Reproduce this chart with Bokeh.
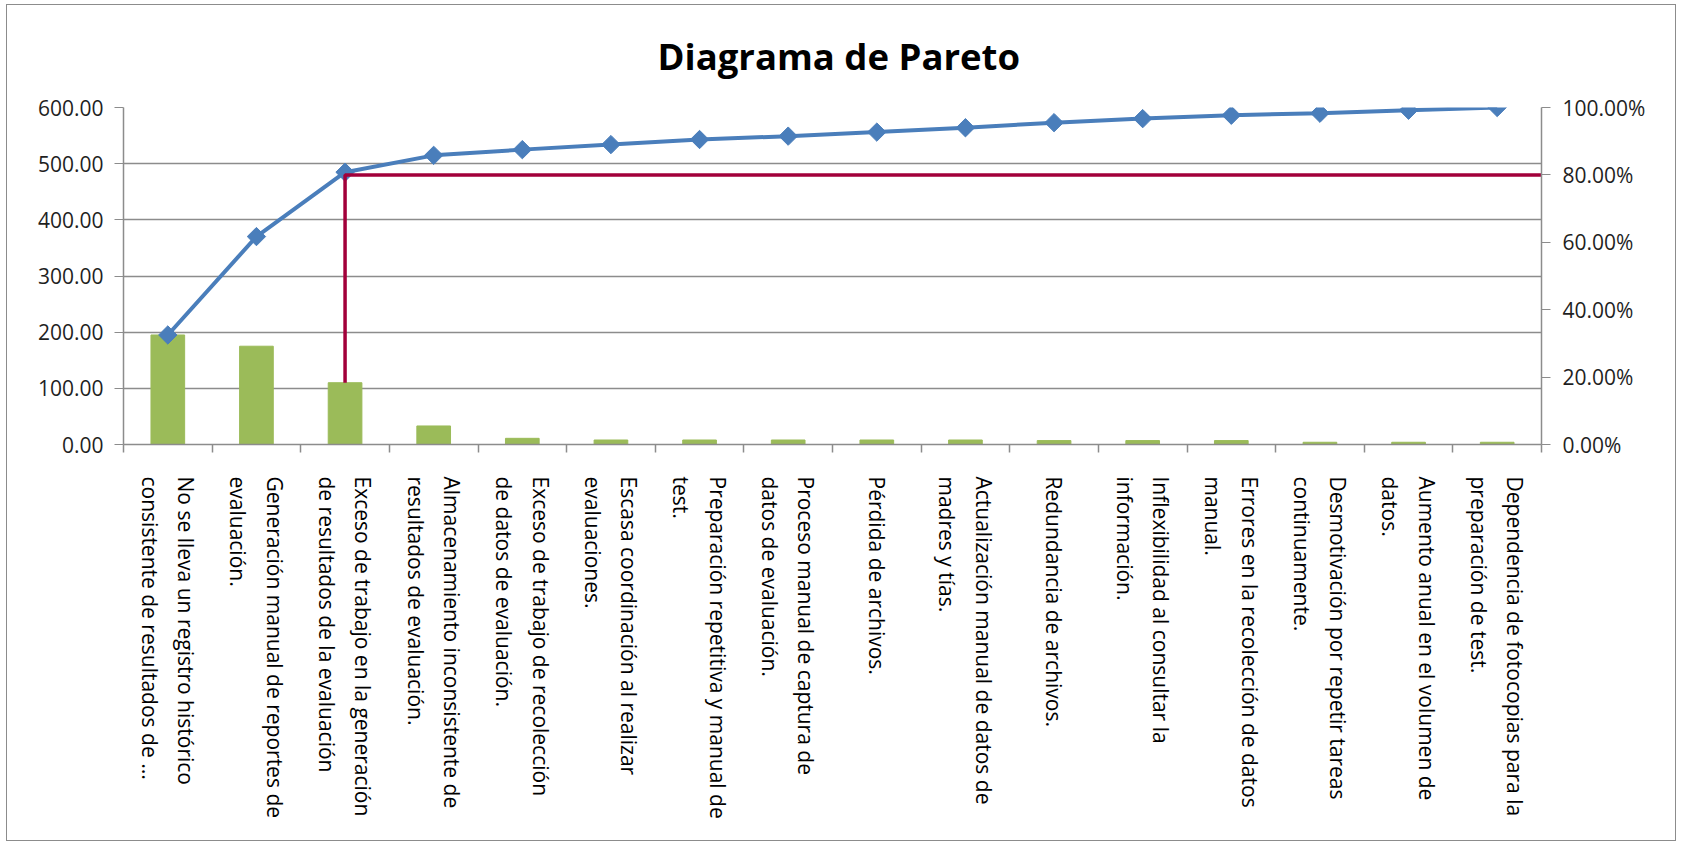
import math
from bokeh.plotting import figure
from bokeh.models import Range1d, LinearAxis, FixedTicker, NumeralTickFormatter
from bokeh.embed import file_html
from bokeh.resources import INLINE

# ---------------- data ----------------
categories = [
    "No se lleva un registro histórico\nconsistente de resultados de ...",
    "Generación manual de reportes de\nevaluación.",
    "Exceso de trabajo en la generación\nde resultados de la evaluación",
    "Almacenamiento inconsistente de\nresultados de evaluación.",
    "Exceso de trabajo de recolección\nde datos de evaluación.",
    "Escasa coordinación al realizar\nevaluaciones.",
    "Preparación repetitiva y manual de\ntest.",
    "Proceso manual de captura de\ndatos de evaluación.",
    "Pérdida de archivos.",
    "Actualización manual de datos de\nmadres y tías.",
    "Redundancia de archivos.",
    "Inflexibilidad al consultar la\ninformación.",
    "Errores en la recolección de datos\nmanual.",
    "Desmotivación por repetir tareas\ncontinuamente.",
    "Aumento anual en el volumen de\ndatos.",
    "Dependencia de fotocopias para la\npreparación de test.",
]
counts = [195, 175, 110, 33, 11, 8, 8, 8, 8, 8, 7, 7, 7, 4, 4, 4]
cum_pct = [0.325, 0.617, 0.808, 0.858, 0.875, 0.890, 0.905, 0.915,
           0.927, 0.940, 0.955, 0.967, 0.977, 0.983, 0.992, 1.000]
left_ticks = [0, 100, 200, 300, 400, 500, 600]
right_ticks = [0.0, 0.2, 0.4, 0.6, 0.8, 1.0]
left_max = 600
threshold_pct = 0.80
title_text = "Diagrama de Pareto"

# ---------------- style ----------------
FONT = "Open Sans"
GREEN = "#9BBB59"
BLUE = "#4A7EBB"
RED = "#A2003A"
GRAY = "#8C8C8C"
TXT = "#1F1F1F"

n = len(categories)
positions = [i + 0.5 for i in range(n)]
boundaries = list(range(n + 1))

p = figure(width=1670, height=837,
           x_range=Range1d(0, n), y_range=Range1d(0, left_max),
           output_backend="svg", toolbar_location=None,
           min_border_left=116, min_border_right=136,
           min_border_top=102, min_border_bottom=398)
p.styles = {"border": "1px solid #8c8c8c", "margin-left": "6px", "margin-top": "4px"}
p.outline_line_color = None
p.background_fill_color = "white"
p.border_fill_color = "white"

# title
p.title.text = title_text
p.title.align = "left"
p.title.offset = 534
p.title.vertical_align = "top"
p.title.standoff = 49
p.title.text_font = FONT
p.title.text_font_size = "36.5px"
p.title.text_font_style = "bold"
p.title.text_color = "black"

p.extra_y_ranges = {"pct": Range1d(0, 1)}

# grid
p.xgrid.visible = False
p.ygrid.ticker = FixedTicker(ticks=left_ticks)
p.ygrid.grid_line_color = GRAY
p.ygrid.grid_line_width = 1.5

# left axis
ya = p.yaxis[0]
ya.ticker = FixedTicker(ticks=left_ticks)
ya.formatter = NumeralTickFormatter(format="0.00")
ya.axis_line_color = GRAY
ya.axis_line_width = 1.5
ya.major_tick_line_color = GRAY
ya.major_tick_out = 9
ya.major_tick_in = 0
ya.minor_tick_line_color = None
ya.major_label_standoff = 11
ya.major_label_text_font = FONT
ya.major_label_text_font_size = "21px"
ya.major_label_text_color = TXT

# right axis
ra = LinearAxis(y_range_name="pct", ticker=FixedTicker(ticks=right_ticks),
                formatter=NumeralTickFormatter(format="0.00%"))
ra.axis_line_color = GRAY
ra.axis_line_width = 1.5
ra.major_tick_line_color = GRAY
ra.major_tick_out = 9
ra.major_tick_in = 0
ra.minor_tick_line_color = None
ra.major_label_standoff = 12
ra.major_label_text_font = FONT
ra.major_label_text_font_size = "21px"
ra.major_label_text_color = TXT
p.add_layout(ra, "right")

# x axis
xa = p.xaxis[0]
xa.ticker = FixedTicker(ticks=positions, minor_ticks=boundaries)
xa.major_label_overrides = {pos: lab for pos, lab in zip(positions, categories)}
xa.major_label_orientation = -math.pi / 2
xa.major_tick_line_color = None
xa.major_tick_out = 0
xa.major_tick_in = 0
xa.minor_tick_line_color = GRAY
xa.minor_tick_line_width = 1.5
xa.minor_tick_out = 8
xa.minor_tick_in = 0
xa.axis_line_color = GRAY
xa.axis_line_width = 1.5
xa.major_label_standoff = 24
xa.major_label_text_font = FONT
xa.major_label_text_font_size = "21px"
xa.major_label_text_color = "black"
xa.major_label_text_line_height = 1.3

# bars
p.vbar(x=positions, top=counts, width=0.38, fill_color=GREEN, line_color=GREEN)

# cumulative line
p.line(x=positions, y=cum_pct, y_range_name="pct", line_color=BLUE, line_width=4)
p.scatter(x=positions, y=cum_pct, y_range_name="pct", marker="square",
          angle=math.pi / 4, size=13, fill_color=BLUE, line_color=BLUE)

# 80% marker line
third = 2
p.line(x=[positions[third], positions[third], n],
       y=[counts[third] / left_max, threshold_pct, threshold_pct],
       y_range_name="pct", line_color=RED, line_width=3.5)

open("out.html", "w").write(file_html(p, INLINE))
